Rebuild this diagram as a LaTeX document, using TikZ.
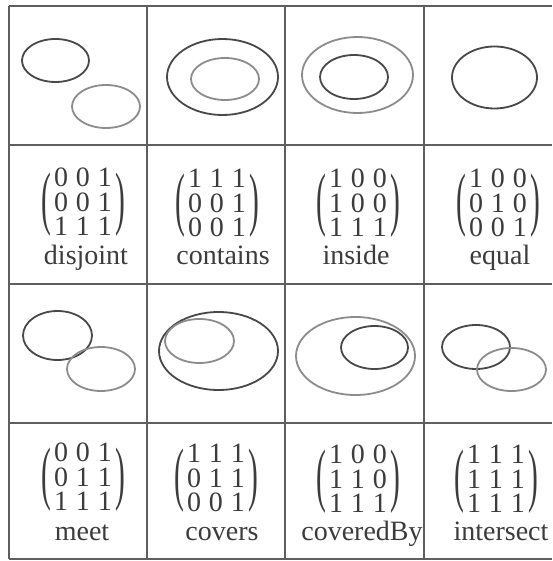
\documentclass[tikz,border=0pt]{standalone}
\usepackage{fontspec}
\setmainfont{Liberation Serif}
\usepackage{tikz}
\definecolor{rcInk}{HTML}{3C3C3C}
\definecolor{rcDark}{HTML}{484848}
\definecolor{rcLight}{HTML}{8C8C8C}
\definecolor{rcRule}{HTML}{5E5E5E}
\newcommand{\bigpar}[1]{\vcenter{\hbox{\scalebox{1.05}[2.5]{#1}}}}
\newcommand{\relmat}[3]{$\bigpar{(}\hspace{3pt}\begin{tabular}{@{}c@{\hspace{8pt}}c@{\hspace{8pt}}c@{}}#1\\#2\\#3\end{tabular}\hspace{3pt}\bigpar{)}$}

\begin{document}
\begin{tikzpicture}[x=1pt,y=-1pt,
  rule/.style={draw=rcRule,line width=1.8pt},
  setA/.style={draw=rcDark,line width=1.8pt},
  setB/.style={draw=rcLight,line width=1.8pt},
  mat/.style={inner sep=0pt,text=rcInk,font=\fontsize{28}{20}\selectfont},
  lab/.style={inner sep=0pt,anchor=base,text=rcInk,font=\fontsize{28}{30}\selectfont}]
\useasboundingbox (0,0) rectangle (552,561);
\fill[white] (0,0) rectangle (552,561);

% grid
\foreach \x in {9,147,285,424}
  \draw[rule] (\x,6) -- (\x,559);
\foreach \y in {6,145,284,423,559}
  \draw[rule] (9,\y) -- (552,\y);

% first row of pictures
\draw[setA] (55.5,60.5) ellipse [x radius=33.5pt,y radius=21.5pt];
\draw[setB] (106,106.5) ellipse [x radius=34pt,y radius=21.5pt];
\draw[setA] (222.5,77) ellipse [x radius=55.5pt,y radius=38pt];
\draw[setB] (225,79) ellipse [x radius=34pt,y radius=21pt];
\draw[setB] (357.5,75) ellipse [x radius=55.5pt,y radius=38pt];
\draw[setA] (354,77) ellipse [x radius=34pt,y radius=22pt];
\draw[setA] (494.5,77.5) ellipse [x radius=42.5pt,y radius=31pt];

% first row of matrices
\node[mat] (mdisjoint) at (83,205) {\relmat{0&0&1}{0&0&1}{1&1&1}};
\node[mat] (mcontains) at (217,206) {\relmat{1&1&1}{0&0&1}{0&0&1}};
\node[mat] (minside)   at (358,206) {\relmat{1&0&0}{1&0&0}{1&1&1}};
\node[mat] (mequal)    at (498,206) {\relmat{1&0&0}{0&1&0}{0&0&1}};
\node[lab] (ldisjoint) at (86,264)  {disjoint};
\node[lab] (lcontains) at (223,264) {contains};
\node[lab] (linside)   at (356,264) {inside};
\node[lab] (lequal)    at (500,264) {equal};

% second row of pictures
\draw[setA] (57.5,335.5) ellipse [x radius=34.5pt,y radius=24.5pt];
\draw[setB] (101,369) ellipse [x radius=34pt,y radius=22pt];
\draw[setA] (218.5,351) ellipse [x radius=59.5pt,y radius=39pt];
\draw[setB] (199.5,341) ellipse [x radius=34.5pt,y radius=22pt];
\draw[setB] (355.5,356) ellipse [x radius=59.5pt,y radius=39pt];
\draw[setA] (374.5,347.5) ellipse [x radius=33.5pt,y radius=21.5pt];
\draw[setA] (476,347) ellipse [x radius=34pt,y radius=22pt];
\draw[setB] (511.5,369.5) ellipse [x radius=34.5pt,y radius=21.5pt];

% second row of matrices
\node[mat] (mmeet)      at (83,480)  {\relmat{0&0&1}{0&1&1}{1&1&1}};
\node[mat] (mcovers)    at (216,481) {\relmat{1&1&1}{0&1&1}{0&0&1}};
\node[mat] (mcoveredby) at (358,482) {\relmat{1&0&0}{1&1&0}{1&1&1}};
\node[mat] (mintersect) at (496,482) {\relmat{1&1&1}{1&1&1}{1&1&1}};
\node[lab] (lmeet)      at (82,540)  {meet};
\node[lab] (lcovers)    at (222,540) {covers};
\node[lab] (lcoveredby) at (362,540) {coveredBy};
\node[lab] (lintersect) at (501,540) {intersect};
\end{tikzpicture}
\end{document}
